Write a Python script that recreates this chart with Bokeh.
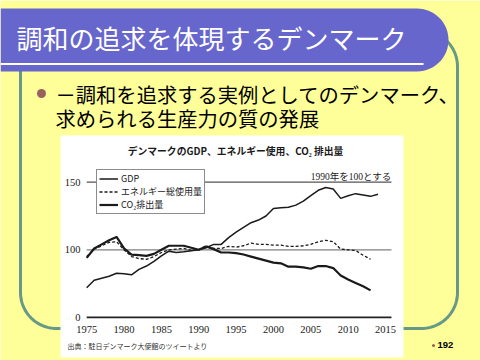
import numpy as np
from bokeh.plotting import figure
from bokeh.models import Range1d, Legend, LegendItem, ColumnDataSource
from bokeh.core.properties import value
from bokeh.embed import file_html
from bokeh.resources import INLINE

# ---------------- data (1990 = 100) ----------------
gdp_years = list(range(1975, 2015))
gdp = [72, 77.5, 79, 80.5, 82.7, 82.3, 81.5, 85.5, 88, 91.5,
       95.5, 99, 98, 98.5, 99.3, 100, 101.5, 104, 104, 109,
       113, 116.5, 120, 122, 125, 130.5, 131, 131.5, 133, 136,
       140, 144, 146, 145, 138, 140, 141.5, 140.5, 139.5, 141]

energy_years = list(range(1975, 2014))
energy = [95, 100.5, 103, 105.5, 106, 100, 95, 93.5, 93, 95,
          98, 100, 100.5, 101, 99.5, 100, 103, 101, 101, 102.5,
          102, 103, 105, 104, 104, 103.5, 103.5, 102.5, 102.5, 103,
          104, 106, 107, 106, 100.5, 100, 99.5, 96, 93]

co2_years = list(range(1975, 2014))
co2 = [94, 101, 104, 107, 109.5, 101, 96.5, 96, 95.5, 97,
       100, 103, 103, 103, 101.5, 100, 102.5, 100.5, 98, 98,
       97.5, 96.5, 95, 93.5, 92, 90.5, 90, 87.5, 87.5, 87,
       86, 88, 88, 86.5, 81, 78, 75.5, 73, 70]

x_ticks = [1975, 1980, 1985, 1990, 1995, 2000, 2005, 2010, 2015]
x_tick_labels = [str(t) for t in x_ticks]
y_ticks = [50, 100, 150]            # broken axis: bottom line labelled "0"
y_tick_labels = ["0", "100", "150"]

series_names = ["GDP", "エネルギー総使用量", "CO₂排出量"]
slide_title = "調和の追求を体現するデンマーク"
bullet_lines = ["－調和を追求する実例としてのデンマーク、", "求められる生産力の質の発展"]
chart_title = "デンマークのGDP、エネルギー使用、CO₂ 排出量"
note_text = "1990年を100とする"
source_text = "出典：駐日デンマーク大使館のツイートより"
page_no = "192"

# ---------------- styles / layout ----------------
YELLOW = "#FFFF99"
PURPLE = "#6666CC"
GREEN = "#669988"
BROWN = "#996060"
INK = "#1a1a1a"
JP = value("Noto Sans CJK JP")
SERIF = value("Liberation Serif")
SERIF_JP = value("Liberation Serif, Noto Sans CJK JP")

W, H, M = 480, 360, 0
# chart placement in slide pixels
PX_1975, PX_PER_YEAR = 86.2, 7.47
PY_100, PX_PER_UNIT = 249.3, 1.353

p = figure(width=W, height=H, x_range=Range1d(M, M + W), y_range=Range1d(M + H, M),
           output_backend="svg", toolbar_location=None,
           x_axis_location=None, y_axis_location=None, min_border=0,
           outline_line_color=None, background_fill_color=YELLOW,
           border_fill_color=YELLOW)
p.xgrid.visible = False
p.ygrid.visible = False

p.extra_x_ranges = {"yr": Range1d(1975 + (M - PX_1975) / PX_PER_YEAR,
                                  1975 + (M + W - PX_1975) / PX_PER_YEAR)}
p.extra_y_ranges = {"val": Range1d(100 + (PY_100 - (M + H)) / PX_PER_UNIT,
                                   100 + (PY_100 - M) / PX_PER_UNIT)}


def rounded_rect(x0, y0, x1, y1, r, n=20):
    xs, ys = [], []
    for cx, cy, a0 in [(x0 + r, y0 + r, 180), (x1 - r, y0 + r, 270),
                       (x1 - r, y1 - r, 0), (x0 + r, y1 - r, 90)]:
        t = np.radians(np.linspace(a0, a0 + 90, n))
        xs += list(cx + r * np.cos(t))
        ys += list(cy + r * np.sin(t))
    return xs + xs[:1], ys + ys[:1]


# green rounded frame
bx, by = rounded_rect(20, 30, 457, 328, 36)
p.line(bx, by, line_color=GREEN, line_width=3)

# title bar with rounded right end
r_end = 31.5
t = np.radians(np.linspace(270, 450, 30))
tx = [0] + list(416.5 + r_end * np.cos(t)) + [0]
ty = [8] + list(39.5 + r_end * np.sin(t)) + [71]
p.patch(tx, ty, fill_color=PURPLE, line_color=None)
p.segment(x0=0, y0=63.5, x1=423, y1=63.5, line_color="white", line_width=2)
p.text(x=16, y=37, text=[slide_title], text_font=JP, text_font_size="26px",
       text_color="white", text_baseline="middle")

# bullet
p.circle(x=41, y=93, radius=4.5, fill_color=BROWN, line_color=None)
p.text(x=55, y=[93, 117], text=bullet_lines, text_font=JP, text_font_size="20.3px",
       text_color="black", text_baseline="middle")

# chart (white picture)
p.quad(left=60, right=403, top=135, bottom=357, fill_color="white", line_color=None)
p.text(x=235, y=150, text=[chart_title], text_font=JP, text_font_size="9.8px",
       text_font_style="bold", text_color=INK, text_align="center", text_baseline="middle")

grid = ColumnDataSource(dict(y=y_ticks, x0=[1975] * 3, x1=[2015.8] * 3,
                             c=["#222222", "#808080", "#555555"], w=[1.8, 1.3, 1.3]))
p.segment(x0="x0", x1="x1", y0="y", y1="y", source=grid, line_color="c", line_width="w",
          x_range_name="yr", y_range_name="val")

p.text(x=80, y=y_ticks, text=y_tick_labels, y_range_name="val", text_font=SERIF,
       text_font_size="10.5px", text_color=INK, text_align="right", text_baseline="middle")
p.text(x=x_ticks, y=328.5, text=x_tick_labels, x_range_name="yr", text_font=SERIF,
       text_font_size="10.5px", text_color=INK, text_align="center", text_baseline="middle")

r_gdp = p.line(gdp_years, gdp, x_range_name="yr", y_range_name="val",
               line_color=INK, line_width=1.5)
r_en = p.line(energy_years, energy, x_range_name="yr", y_range_name="val",
              line_color=INK, line_width=1.3, line_dash="3 2")
r_co2 = p.line(co2_years, co2, x_range_name="yr", y_range_name="val",
               line_color=INK, line_width=2.2)

legend = Legend(items=[LegendItem(label=series_names[0], renderers=[r_gdp]),
                       LegendItem(label=series_names[1], renderers=[r_en]),
                       LegendItem(label=series_names[2], renderers=[r_co2])],
                location=(96, 146), orientation="vertical",
                background_fill_color="white", background_fill_alpha=1,
                border_line_color=INK, border_line_width=1,
                label_text_font="Noto Sans CJK JP", label_text_font_size="9px",
                label_text_color=INK,
                glyph_width=19, glyph_height=11, label_height=11, label_standoff=3,
                spacing=0, padding=2, margin=0)
p.add_layout(legend)

p.text(x=391, y=176.5, text=[note_text], text_font=SERIF_JP, text_font_size="9.5px",
       text_color=INK, text_align="right", text_baseline="middle")
p.text(x=67, y=345, text=[source_text], text_font=JP, text_font_size="7px",
       text_color="#333333", text_baseline="middle")

# page number
p.circle(x=433, y=345, radius=1.5, fill_color=BROWN, line_color=None)
p.text(x=437, y=344.5, text=[page_no], text_font=value("Liberation Sans"),
       text_font_size="9.5px", text_font_style="bold", text_color="black",
       text_baseline="middle")

open("out.html", "w").write(file_html(p, INLINE))
